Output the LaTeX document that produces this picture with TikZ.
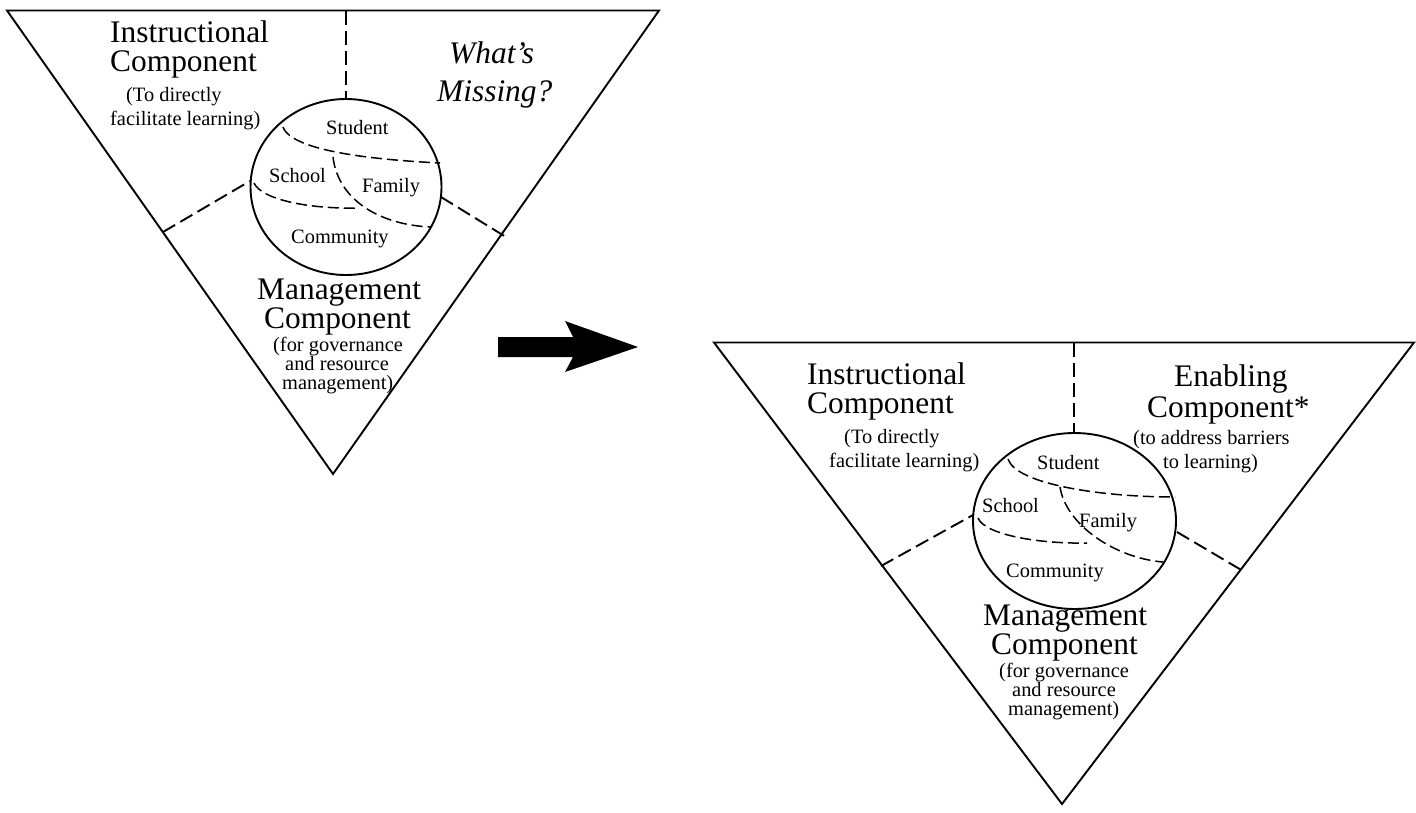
\documentclass[tikz,border=0pt]{standalone}
\usepackage{fontspec}
\setmainfont{Liberation Serif}
\usetikzlibrary{shapes.geometric}
\tikzset{
  frame/.style={draw=black,line width=1.9pt,line join=miter},
  globe/.style={draw=black,line width=1.9pt,ellipse,inner sep=0pt,minimum width=#1,minimum height=176pt},
  divider/.style={draw=black,line width=1.9pt,dash pattern=on 14pt off 6pt},
  seam/.style={draw=black,line width=1.5pt,dash pattern=on 11pt off 5pt},
  bigline/.style={anchor=base west,inner sep=0pt,font=\fontsize{31.4}{34}\selectfont},
  bigital/.style={anchor=base west,inner sep=0pt,font=\fontsize{31.4}{34}\selectfont\itshape},
  smallline/.style={anchor=base west,inner sep=0pt,font=\fontsize{20.4}{24}\selectfont},
}
\begin{document}
\begin{tikzpicture}[x=1pt,y=-1pt]
\useasboundingbox (0,0) rectangle (1416,812);
% left triangle
\coordinate (ltl) at (7,10.5); \coordinate (ltr) at (659,10.5); \coordinate (lb) at (333,474);
\draw[frame] (ltl) -- (ltr) -- (lb) -- cycle;
\node[globe=191pt] (lg) at (346,187) {};
\coordinate (lt1) at (346,11); \coordinate (lt2) at (163,232); \coordinate (lt3) at (506,237);
\coordinate (lg1) at (346,99); \coordinate (lg2) at (250,181); \coordinate (lg3) at (441,197);
\draw[divider] (lt1) -- (lg1);
\draw[divider] (lt2) -- (lg2);
\draw[divider] (lg3) -- (lt3);
\coordinate (la1) at (283,127); \coordinate (la2) at (440,163); \coordinate (lj) at (333,157);
\draw[seam] (la1) .. controls (292,152) and (380,160) .. (la2);
\coordinate (lb2) at (431,227);
\draw[seam] (lj) .. controls (338,200) and (380,225) .. (lb2);
\coordinate (lc1) at (254,183); \coordinate (lc2) at (357,208);
\draw[seam] (lc1) .. controls (262,200) and (310,209) .. (lc2);
\node[bigline] (li1) at (110,42) {Instructional};
\node[bigline] (li2) at (110,71) {Component};
\node[smallline] (lis1) at (126,101) {(To directly};
\node[smallline] (lis2) at (110,125) {facilitate learning)};
\node[bigital] (lw1) at (449,63.5) {What’s};
\node[bigital] (lw2) at (437,101.5) {Missing?};
\node[smallline] (ls1) at (326,134) {Student};
\node[smallline] (ls2) at (269,182) {School};
\node[smallline] (ls3) at (362,192) {Family};
\node[smallline] (ls4) at (291,243) {Community};
\node[bigline] (lm1) at (257,299) {Management};
\node[bigline] (lm2) at (264,328) {Component};
\node[smallline] (lms1) at (273,351) {(for governance};
\node[smallline] (lms2) at (285,370) {and resource};
\node[smallline] (lms3) at (282,389) {management)};
% arrow
\fill[black] (498,337) -- (573,337) -- (565,321) -- (638,347) -- (565,372) -- (573,357) -- (498,357) -- cycle;
% right triangle
\coordinate (rtl) at (714,342.5); \coordinate (rtr) at (1414,342.5); \coordinate (rb) at (1062,804);
\draw[frame] (rtl) -- (rtr) -- (rb) -- cycle;
\node[globe=203pt] (rg) at (1074.5,521) {};
\coordinate (rt1) at (1074,343); \coordinate (rt2) at (881,566); \coordinate (rt3) at (1243,571);
\coordinate (rg1) at (1074,433); \coordinate (rg2) at (973,515); \coordinate (rg3) at (1177,532);
\draw[divider] (rt1) -- (rg1);
\draw[divider] (rt2) -- (rg2);
\draw[divider] (rg3) -- (rt3);
\coordinate (ra1) at (1008,459); \coordinate (ra2) at (1175,497); \coordinate (rj) at (1060,487);
\draw[seam] (ra1) .. controls (1016,484) and (1100,497) .. (ra2);
\coordinate (rb2) at (1163,562);
\draw[seam] (rj) .. controls (1066,525) and (1115,558) .. (rb2);
\coordinate (rc1) at (978,518); \coordinate (rc2) at (1087,543);
\draw[seam] (rc1) .. controls (985,535) and (1040,544) .. (rc2);
\node[bigline] (ri1) at (807,384) {Instructional};
\node[bigline] (ri2) at (807,413) {Component};
\node[smallline] (ris1) at (844,443) {(To directly};
\node[smallline] (ris2) at (829,467) {facilitate learning)};
\node[bigline] (re1) at (1174,386) {Enabling};
\node[bigline] (re2) at (1147,417) {Component*};
\node[smallline] (res1) at (1133,444) {(to address barriers};
\node[smallline] (res2) at (1163,468) {to learning)};
\node[smallline] (rs1) at (1037,469) {Student};
\node[smallline] (rs2) at (982,512) {School};
\node[smallline] (rs3) at (1079,527) {Family};
\node[smallline] (rs4) at (1006,577) {Community};
\node[bigline] (rm1) at (983,625) {Management};
\node[bigline] (rm2) at (991,654) {Component};
\node[smallline] (rms1) at (999,677) {(for governance};
\node[smallline] (rms2) at (1012,696) {and resource};
\node[smallline] (rms3) at (1008,715) {management)};
\end{tikzpicture}
\end{document}
